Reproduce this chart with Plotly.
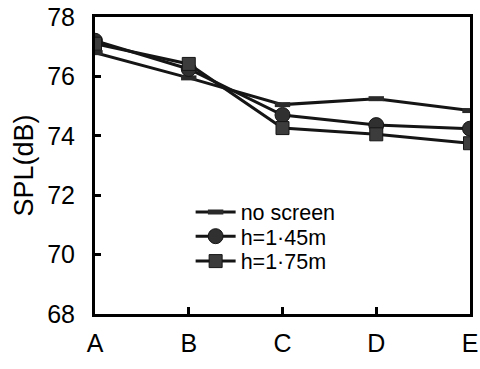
import plotly.graph_objects as go

categories = ["A", "B", "C", "D", "E"]
no_screen = [76.8, 75.95, 75.05, 75.25, 74.85]
h145 = [77.2, 76.25, 74.7, 74.36, 74.24]
h175 = [77.1, 76.42, 74.26, 74.05, 73.75]
y_ticks = [68, 70, 72, 74, 76, 78]

FONT = "Liberation Sans, Arial, sans-serif"
LINE = "#151515"

fig = go.Figure()
fig.add_trace(go.Scatter(
    x=categories, y=no_screen, name="no screen", mode="lines+markers", legend="legend",
    line=dict(color=LINE, width=3),
    marker=dict(symbol="line-ew", size=11, color="#333", line=dict(color="#2a2a2a", width=5))))
fig.add_trace(go.Scatter(
    x=categories, y=h145, name="h=1·45m", mode="lines+markers", legend="legend2",
    line=dict(color=LINE, width=3),
    marker=dict(symbol="circle", size=15, color="#303030", line=dict(color=LINE, width=1))))
fig.add_trace(go.Scatter(
    x=categories, y=h175, name="h=1·75m", mode="lines+markers", legend="legend3",
    line=dict(color=LINE, width=3),
    marker=dict(symbol="square", size=13, color="#3c3c3c", line=dict(color=LINE, width=1))))

leg_common = dict(x=0.255, xanchor="left", yanchor="middle", bgcolor="rgba(0,0,0,0)",
                  font=dict(size=21.5, family=FONT, color="black"), itemwidth=40)

fig.update_layout(
    width=480, height=369,
    margin=dict(l=95, r=10, t=17, b=55),
    paper_bgcolor="white", plot_bgcolor="white",
    font=dict(family=FONT, size=24, color="black"),
    showlegend=True,
    legend=dict(y=0.343, **leg_common),
    legend2=dict(y=0.262, **leg_common),
    legend3=dict(y=0.178, **leg_common),
    xaxis=dict(type="category", range=[0, 4], showgrid=False, zeroline=False,
               showline=True, linecolor="black", linewidth=3, mirror=True,
               ticks="inside", ticklen=7, tickwidth=2.5, tickcolor="black",
               tickfont=dict(size=25), ticklabelstandoff=5, automargin=False),
    yaxis=dict(range=[68, 78], tickvals=y_ticks, showgrid=False, zeroline=False,
               showline=True, linecolor="black", linewidth=3, mirror=True,
               ticks="inside", ticklen=6, tickwidth=2.5, tickcolor="black",
               tickfont=dict(size=25), ticklabelstandoff=12, automargin=False,
               title=dict(text="SPL(dB)", font=dict(size=27), standoff=6)),
)

fig.write_html("out.html", config={"displayModeBar": False},
               post_script="document.body.style.margin='0';")
